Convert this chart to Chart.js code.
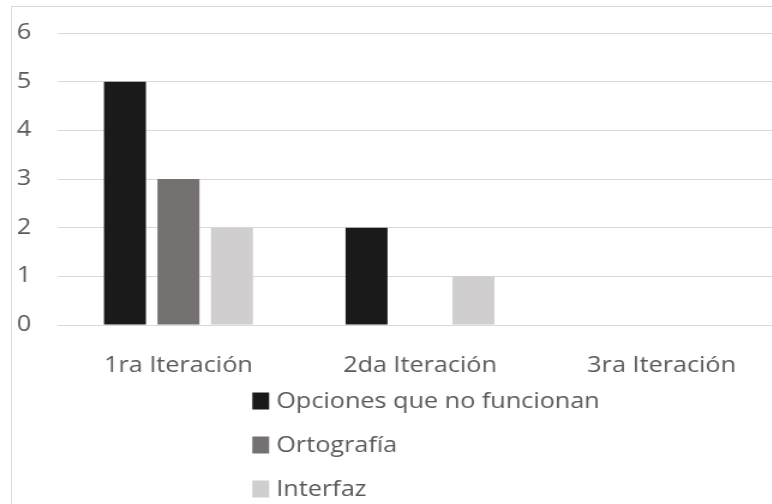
<!DOCTYPE html>
<html>
<head>
<meta charset="utf-8">
<script src="https://cdn.jsdelivr.net/npm/chart.js@4"></script>
<style>
    html, body { margin: 0; padding: 0; background: #fff; overflow: hidden; width: 772px; height: 504px; }
    .marco {
        position: absolute; left: 11px; top: 6px;
        width: 900px; height: 600px;
        border: 1px solid #d9d9d9; overflow: hidden;
    }
    /* la imagen original está estirada a lo ancho */
    #grafico { transform: scaleX(1.2); transform-origin: 0 0; }
</style>
</head>
<body>
<div class="marco">
    <canvas id="grafico" width="690" height="520"></canvas>
</div>
<script>
// Datos del gráfico
const categorias = ['1ra Iteración', '2da Iteración', '3ra Iteración'];
const series = ['Opciones que no funcionan', 'Ortografía', 'Interfaz'];
const opcionesNoFuncionan = [5, 2, 0];
const ortografia = [3, 0, 0];
const interfaz = [2, 1, 0];
const colores = ['#1a1a1a', '#767171', '#d0cece'];
const ticksY = [0, 1, 2, 3, 4, 5, 6];

const colorTexto = '#595959';
const fuente = '"Open Sans", sans-serif';

// Leyenda vertical debajo del eje X (Chart.js solo la pone en fila)
const leyendaVertical = {
    id: 'leyendaVertical',
    afterDraw(chart) {
        const ctx = chart.ctx;
        const sets = chart.data.datasets;
        ctx.save();
        ctx.font = '21px ' + fuente;
        let anchoTexto = 0;
        sets.forEach(ds => { anchoTexto = Math.max(anchoTexto, ctx.measureText(ds.label).width); });
        const anchoCaja = 14, altoCaja = 17, hueco = 6;
        const x0 = chart.width / 2 - (anchoCaja + hueco + anchoTexto) / 2;
        let y = chart.chartArea.bottom + 76;
        sets.forEach(ds => {
            ctx.fillStyle = ds.backgroundColor;
            ctx.fillRect(x0, y - altoCaja / 2, anchoCaja, altoCaja);
            ctx.fillStyle = colorTexto;
            ctx.textBaseline = 'middle';
            ctx.textAlign = 'left';
            ctx.fillText(ds.label, x0 + anchoCaja + hueco, y + 1);
            y += 44;
        });
        ctx.restore();
    }
};

const valores = [opcionesNoFuncionan, ortografia, interfaz];

const ctx = document.getElementById('grafico').getContext('2d');
const grafico = new Chart(ctx, {
    type: 'bar',
    data: {
        labels: categorias,
        datasets: series.map((nombre, i) => ({
            label: nombre,
            data: valores[i],
            backgroundColor: colores[i],
            borderWidth: 0,
            categoryPercentage: 0.664,
            barPercentage: 0.785
        }))
    },
    options: {
        responsive: false,
        animation: false,
        layout: {
            padding: { top: 26, left: 4, right: 48, bottom: 149 }
        },
        plugins: {
            legend: { display: false },
            tooltip: { enabled: false }
        },
        scales: {
            x: {
                grid: { display: false, drawTicks: false },
                border: { display: false },
                afterFit: scale => { scale.height = 53; },
                ticks: {
                    color: colorTexto,
                    font: { family: fuente, size: 21 },
                    padding: 28,
                    maxRotation: 0
                }
            },
            y: {
                min: ticksY[0],
                max: ticksY[ticksY.length - 1],
                afterBuildTicks: scale => { scale.ticks = ticksY.map(v => ({ value: v })); },
                afterFit: scale => { scale.width = 34; },
                grid: { color: '#d9d9d9', lineWidth: 1, drawTicks: false },
                border: { display: false },
                ticks: {
                    color: colorTexto,
                    font: { family: fuente, size: 21 },
                    padding: 0,
                    crossAlign: 'far'
                }
            }
        }
    },
    plugins: [leyendaVertical]
});
</script>
</body>
</html>
